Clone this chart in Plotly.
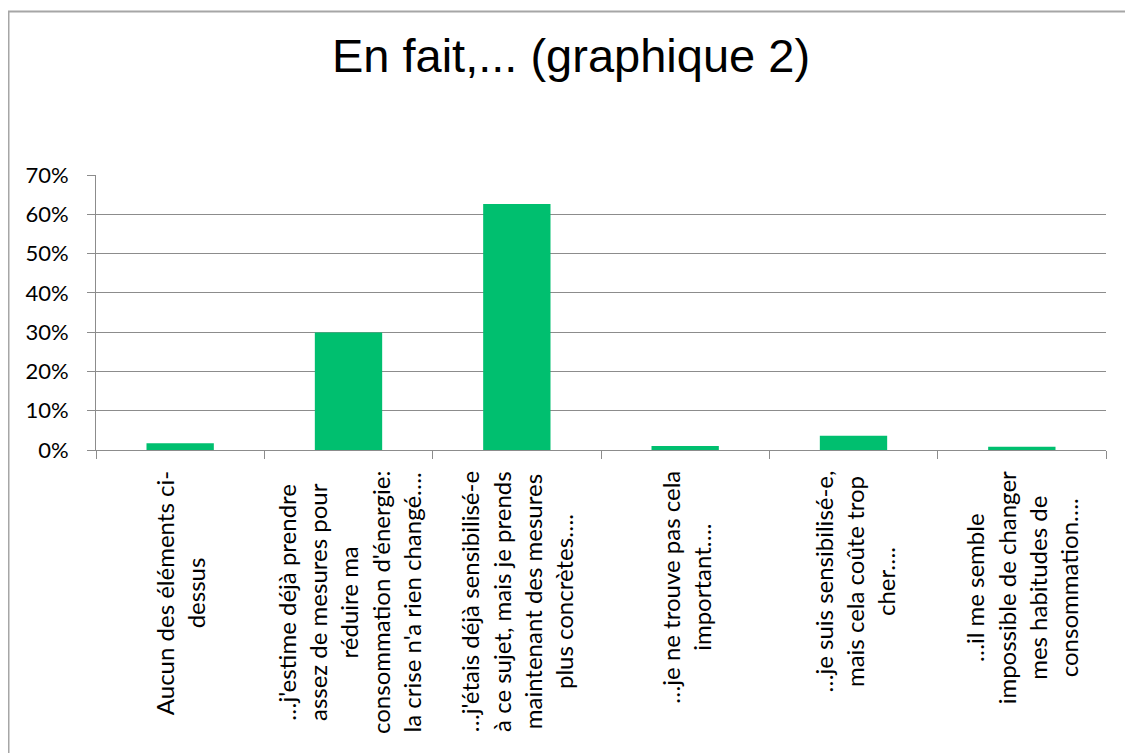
import plotly.graph_objects as go

# --- data -------------------------------------------------------------
categories = [
    "Aucun des éléments ci-<br>dessus",
    "…j'estime déjà prendre<br>assez de mesures pour<br>réduire ma<br>consommation d'énergie:<br>la crise n'a rien changé….",
    "…j'étais déjà sensibilisé-e<br>à ce sujet, mais je prends<br>maintenant des mesures<br>plus concrètes….",
    "…je ne trouve pas cela<br>important….",
    "…je suis sensibilisé-e,<br>mais cela coûte trop<br>cher….",
    "…il me semble<br>impossible de changer<br>mes habitudes de<br>consommation….",
]
shares = [0.017, 0.299, 0.626, 0.010, 0.036, 0.008]
y_ticks = [0, 0.1, 0.2, 0.3, 0.4, 0.5, 0.6, 0.7]

TITLE = "En fait,... (graphique 2)"
BAR_COLOR = "#00BF6F"
GRID = "#8C8C8C"

# figure size; the page body adds an 8px offset, so positions below are
# figure pixels (page pixel - 8)
W, H = 1133, 753
L, R, T, B = 88, 35, 167, 311
PW, PH = W - L - R, H - T - B


def px_x(px):
    return (px - L) / PW


def px_y(py):
    return (H - B - py) / PH


fig = go.Figure(go.Bar(
    x=categories,
    y=shares,
    marker=dict(color=BAR_COLOR, line=dict(width=0)),
    hoverinfo="x+y",
))

# category labels, rotated, lines centered like the spreadsheet chart
for cat in categories:
    fig.add_annotation(
        x=cat, xref="x",
        y=px_y(461), yref="paper",
        text=cat, textangle=-90,
        xanchor="center", yanchor="top",
        align="center", showarrow=False,
        font=dict(family="Lato", size=24, color="#000000"),
    )

# outer chart border (right/bottom edges fall outside the picture)
fig.add_shape(
    type="rect", xref="paper", yref="paper",
    x0=px_x(0.5), x1=px_x(1145), y0=px_y(765), y1=px_y(3.5),
    line=dict(color="#A6A6A6", width=2), fillcolor="rgba(0,0,0,0)",
    layer="below",
)

fig.update_layout(
    width=W, height=H,
    margin=dict(l=L, r=R, t=T, b=B),
    paper_bgcolor="white",
    plot_bgcolor="white",
    showlegend=False,
    bargap=0.6,
    title=dict(
        text=TITLE, x=563 / W, xanchor="center",
        y=1 - 48 / H, yanchor="middle",
        font=dict(family="Liberation Sans", size=47, color="#000000"),
    ),
)

fig.update_xaxes(
    showticklabels=False,
    showgrid=False,
    showline=True, linecolor=GRID, linewidth=1,
    ticks="outside", tickson="boundaries", ticklen=8, tickcolor=GRID,
)
fig.update_yaxes(
    range=[0, 0.7],
    tickvals=y_ticks,
    tickformat=".0%",
    showgrid=True, gridcolor=GRID, gridwidth=1,
    showline=True, linecolor=GRID, linewidth=1,
    ticks="outside", ticklen=8, tickcolor=GRID,
    ticklabelstandoff=14,
    tickfont=dict(family="Lato", size=22, color="#000000"),
    zeroline=False,
)

fig.write_html("out.html")
